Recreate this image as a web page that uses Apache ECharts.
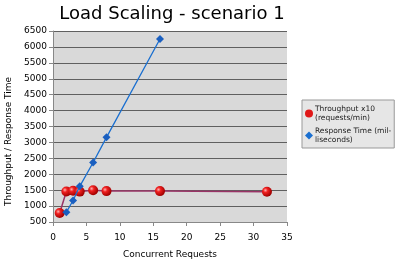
<!DOCTYPE html>
<html><head><meta charset="utf-8">
<script src="https://cdn.jsdelivr.net/npm/echarts@6/dist/echarts.min.js"></script>
<style>html,body{margin:0;padding:0;background:#fff}#c{width:401px;height:262px}</style>
</head><body><div id="c"></div>
<script>
var throughputX = [1, 2, 3, 4, 6, 8, 16, 32];
var throughputY = [780, 1460, 1480, 1455, 1500, 1470, 1470, 1450];
var responseX = [2, 3, 4, 6, 8, 16];
var responseY = [810, 1175, 1620, 2370, 3160, 6250];
var seriesNames = ['Throughput x10\n(requests/min)', 'Response Time (mil-\nliseconds)'];
var titleText = 'Load Scaling - scenario 1';

function pairs(xs, ys) { return xs.map(function (x, i) { return [x, ys[i]]; }); }
var font = 'DejaVu Sans';
var sphere = new echarts.graphic.RadialGradient(0.35, 0.35, 0.65, [
  {offset: 0, color: '#ffb0b0'}, {offset: 0.35, color: '#f02020'}, {offset: 1, color: '#a00000'}]);
var chart = echarts.init(document.getElementById('c'));
chart.setOption({
  animation: false,
  title: {text: titleText, left: 167, top: 0, textAlign: 'center',
    textStyle: {fontFamily: font, fontSize: 18, fontWeight: 'normal', color: '#000'}},
  grid: {left: 53, right: 114, top: 31, bottom: 40, show: true, backgroundColor: '#d9d9d9', borderWidth: 0,
    containLabel: false, outerBoundsMode: 'none'},
  legend: {orient: 'vertical', left: 302, top: 100, padding: [4, 3, 3, 3],
    backgroundColor: '#e6e6e6', borderColor: '#999', borderWidth: 1, itemGap: 3,
    itemWidth: 8, itemHeight: 8,
    textStyle: {fontFamily: font, fontSize: 7.5, color: '#222', lineHeight: 9.5, padding: [0, 0, 0, -3]},
    data: [{name: seriesNames[0], icon: 'circle', itemStyle: {color: '#e01818'}},
           {name: seriesNames[1], icon: 'diamond', itemStyle: {color: '#1a6fd0'}}]},
  xAxis: {type: 'value', min: 0, max: 35, interval: 5,
    name: 'Concurrent Requests', nameLocation: 'middle', nameGap: 28,
    nameTextStyle: {fontFamily: font, fontSize: 9, color: '#000'},
    axisLine: {show: true, lineStyle: {color: '#888'}},
    axisTick: {show: true, length: 4, lineStyle: {color: '#888'}},
    axisLabel: {fontFamily: font, fontSize: 9, color: '#000', margin: 11},
    splitLine: {show: false}},
  yAxis: {type: 'value', min: 500, max: 6500, interval: 500,
    name: 'Throughput / Response Time', nameLocation: 'middle', nameGap: 32,
    nameTextStyle: {fontFamily: font, fontSize: 9, color: '#000', padding: [0, 30, 0, 0]},
    axisLine: {show: true, lineStyle: {color: '#888'}},
    axisTick: {show: true, length: 4, lineStyle: {color: '#888'}},
    axisLabel: {fontFamily: font, fontSize: 9, color: '#000', margin: 6,
      formatter: function (v) { return String(v); }},
    splitLine: {show: true, lineStyle: {color: '#606060', width: 1}}},
  series: [
    {name: seriesNames[0], type: 'line', data: pairs(throughputX, throughputY),
      symbol: 'circle', symbolSize: 10,
      lineStyle: {color: '#993366', width: 1.5},
      itemStyle: {color: sphere, borderWidth: 0}, z: 3},
    {name: seriesNames[1], type: 'line', data: pairs(responseX, responseY),
      symbol: 'diamond', symbolSize: 8,
      lineStyle: {color: '#1a6fd0', width: 1.3},
      itemStyle: {color: '#1a5fc0', borderWidth: 0}, z: 4}
  ]
});
</script></body></html>
